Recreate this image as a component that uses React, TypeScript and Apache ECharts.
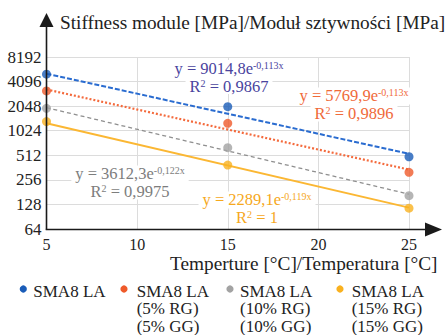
import React, { useEffect, useRef } from "react";
import * as echarts from "echarts";

const temps = [5, 15, 25];
const sma8 = [5040, 2020, 491];
const rg5 = [3150, 1260, 317];
const rg10 = [1925, 635, 164];
const rg15 = [1325, 389, 115];

const trendX = [5, 25];
const trendSma8 = [5120, 534];
const trendRg5 = [3278, 342];
const trendRg10 = [1963, 171];
const trendRg15 = [1263, 117];

const xTicks = [5, 10, 15, 20, 25];
const yTicks = [64, 128, 256, 512, 1024, 2048, 4096, 8192];

const legendNames = [
  "SMA8 LA",
  "SMA8 LA\n(5% RG)\n(5% GG)",
  "SMA8 LA\n(10% RG)\n(10% GG)",
  "SMA8 LA\n(15% RG)\n(15% GG)",
];
const equations = [
  { base: "y = 9014,8e", exp: "-0,113x", r2: "0,9867" },
  { base: "y = 5769,9e", exp: "-0,113x", r2: "0,9896" },
  { base: "y = 3612,3e", exp: "-0,122x", r2: "0,9975" },
  { base: "y = 2289,1e", exp: "-0,119x", r2: "1" },
];

const pointColors = ["#1a5cb8", "#ef5a2a", "#a3a3a3", "#f9b11f"];
const lineColors = ["#2a6cd0", "#f46a3c", "#8f8f8f", "#fbb733"];
const eqColors = ["#4a449e", "#f06a3a", "#7d7d7d", "#f6a81c"];

const FAMILY = "Liberation Serif";

export default function App() {
  const ref = useRef<HTMLDivElement>(null);
  useEffect(() => {
    if (!ref.current) return;
    const chart = echarts.init(ref.current, null, { renderer: "svg" });
    const pts = [sma8, rg5, rg10, rg15];
    const trends = [trendSma8, trendRg5, trendRg10, trendRg15];
    const dashTypes: any[] = [[5, 2], [2, 2], [4, 3], "solid"];
    const widths = [2, 2.2, 1.3, 2];

    const series: any[] = [];
    trends.forEach((t, i) => {
      series.push({
        type: "line",
        data: trendX.map((x, j) => [x, t[j]]),
        symbol: "none",
        lineStyle: { color: lineColors[i], width: widths[i], type: dashTypes[i] },
        silent: true,
        z: 2,
      });
    });
    pts.forEach((p, i) => {
      series.push({
        type: "scatter",
        data: temps.map((x, j) => [x, p[j]]),
        symbol: "circle",
        symbolSize: 9,
        itemStyle: { color: pointColors[i] },
        z: 3,
      });
    });

    const eqPos = [
      [229, 68.5],
      [354, 96],
      [130, 174],
      [257, 200],
    ];
    const richFor = (c: string) => ({
      b: { fontSize: 16.5, fontFamily: FAMILY, fill: c, lineHeight: 16 },
      s: { fontSize: 10, fontFamily: FAMILY, fill: c, lineHeight: 16, verticalAlign: "top" },
    });
    const eqGraphics: any[] = [];
    equations.forEach((e, i) => {
      eqGraphics.push({
        type: "text",
        z: 10,
        style: {
          x: eqPos[i][0],
          y: eqPos[i][1] - 8.5,
          text: `{b|${e.base}}{s|${e.exp}}`,
          align: "center",
          verticalAlign: "top",
          fill: eqColors[i],
          backgroundColor: "#ffffff",
          padding: [0, 4, 1, 4],
          rich: richFor(eqColors[i]),
        },
      });
      eqGraphics.push({
        type: "text",
        z: 10,
        style: {
          x: eqPos[i][0],
          y: eqPos[i][1] + 8.5,
          text: `{b|R}{s|2}{b| = ${e.r2}}`,
          align: "center",
          verticalAlign: "top",
          fill: eqColors[i],
          backgroundColor: "#ffffff",
          padding: [1, 4, 0, 4],
          rich: richFor(eqColors[i]),
        },
      });
    });

    const legX = [[23.3, 33.3], [124, 136.7], [230, 240], [340, 351.7]];
    const legendGraphics: any[] = [];
    legendNames.forEach((n, i) => {
      legendGraphics.push({
        type: "circle",
        shape: { cx: legX[i][0], cy: 289, r: 3.6 },
        style: { fill: pointColors[i] },
      });
      legendGraphics.push({
        type: "text",
        style: {
          x: legX[i][1],
          y: 282.5,
          text: n,
          fontSize: 17,
          fontFamily: FAMILY,
          lineHeight: 17.5,
          fill: "#222",
          align: "left",
          verticalAlign: "top",
        },
      });
    });

    chart.setOption({
      animation: false,
      backgroundColor: "#ffffff",
      textStyle: { fontFamily: FAMILY },
      grid: { left: 46.5, right: 36, top: 57, bottom: 106, containLabel: false },
      xAxis: {
        type: "value",
        min: xTicks[0],
        max: xTicks[xTicks.length - 1],
        interval: 5,
        axisLine: { show: false },
        axisTick: { show: false },
        axisLabel: {
          color: "#222",
          fontSize: 16,
          fontFamily: FAMILY,
          margin: 7,
          formatter: (v: number) => `{t|${v}}`,
          rich: { t: { fontSize: 16, fontFamily: FAMILY, color: "#222" } },
        },
        splitLine: { show: true, lineStyle: { color: "#dcdcdc", width: 1 } },
      },
      yAxis: {
        type: "log",
        logBase: 2,
        min: yTicks[0],
        max: yTicks[yTicks.length - 1],
        interval: 1,
        axisLine: { show: false },
        axisTick: { show: false },
        axisLabel: {
          color: "#222",
          fontSize: 17,
          fontFamily: FAMILY,
          margin: 5,
          formatter: (v: number) => `{t|${Math.round(v)}}`,
          rich: { t: { fontSize: 17, fontFamily: FAMILY, color: "#222" } },
        },
        splitLine: { show: true, lineStyle: { color: "#dcdcdc", width: 1 } },
      },
      series,
      graphic: [
        {
          type: "line",
          shape: { x1: 46.5, y1: 229.5, x2: 46.5, y2: 26 },
          style: { stroke: "#1a1a1a", lineWidth: 1.6 },
          z: 20,
        },
        {
          type: "polygon",
          shape: { points: [[39.5, 27], [53.5, 27], [46.5, 13]] },
          style: { fill: "#1a1a1a" },
          z: 20,
        },
        {
          type: "line",
          shape: { x1: 45.7, y1: 229.5, x2: 427, y2: 229.5 },
          style: { stroke: "#1a1a1a", lineWidth: 1.6 },
          z: 20,
        },
        {
          type: "polygon",
          shape: { points: [[425, 222.5], [425, 236.5], [442, 229.5]] },
          style: { fill: "#1a1a1a" },
          z: 20,
        },
        {
          type: "text",
          style: {
            x: 60,
            y: 22.5,
            text: "Stiffness module [MPa]/Moduł sztywności [MPa]",
            fontSize: 19.3,
            fontFamily: FAMILY,
            fill: "#222",
            align: "left",
            verticalAlign: "middle",
          },
        },
        {
          type: "text",
          style: {
            x: 170,
            y: 263,
            text: "Temperture [°C]/Temperatura [°C]",
            fontSize: 19.3,
            fontFamily: FAMILY,
            fill: "#222",
            align: "left",
            verticalAlign: "middle",
          },
        },
        ...eqGraphics,
        ...legendGraphics,
      ],
    });
    return () => chart.dispose();
  }, []);
  return (
    <div
      ref={ref}
      style={{ position: "fixed", left: 0, top: 0, width: 445, height: 335 }}
    />
  );
}
